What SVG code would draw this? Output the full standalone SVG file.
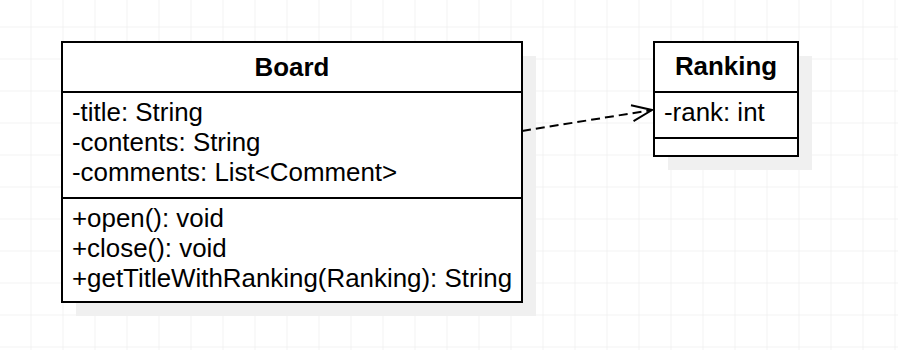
<svg xmlns="http://www.w3.org/2000/svg" width="898" height="350" viewBox="0 0 898 350">
<defs>
<pattern id="grid" x="30.5" y="26.5" width="32" height="32" patternUnits="userSpaceOnUse">
<path d="M0 0H32M0 0V32" fill="none" stroke="#e8e8e8" stroke-width="1"/>
</pattern>
<marker id="open" markerUnits="userSpaceOnUse" markerWidth="30" markerHeight="30" refX="22" refY="10" orient="auto" viewBox="0 0 30 20">
<path d="M2 2 L22 10 L2 18" fill="none" stroke="#000" stroke-width="2"/>
</marker>
</defs>
<style>
.shadow{fill:#f0f0f0;stroke:none}
.box{fill:#fff;stroke:#000;stroke-width:2}
.sep{stroke:#000;stroke-width:2}
.t{font-family:"Liberation Sans",Arial,sans-serif;font-size:25.9px;fill:#000}
.b{font-weight:bold;text-anchor:middle}
.edge{fill:none;stroke:#000;stroke-width:2;stroke-dasharray:9 5}
</style>
<rect width="898" height="350" fill="#fff"/>
<rect width="898" height="350" fill="url(#grid)"/>
<g id="Board">
<rect class="shadow" x="76" y="56" width="460" height="260"/>
<rect class="box" x="62" y="42" width="460" height="260"/>
<line class="sep" x1="62" y1="92" x2="522" y2="92"/>
<line class="sep" x1="62" y1="198" x2="522" y2="198"/>
<text class="t b" x="292" y="76">Board</text>
<text class="t" x="72" y="121">-title: String</text>
<text class="t" x="72" y="151">-contents: String</text>
<text class="t" x="72" y="181">-comments: List&lt;Comment&gt;</text>
<text class="t" x="72" y="227">+open(): void</text>
<text class="t" x="72" y="257">+close(): void</text>
<text class="t" x="72" y="287">+getTitleWithRanking(Ranking): String</text>
</g>
<g id="Ranking">
<rect class="shadow" x="668" y="56" width="144" height="114"/>
<rect class="box" x="654" y="42" width="144" height="114"/>
<line class="sep" x1="654" y1="92" x2="798" y2="92"/>
<line class="sep" x1="654" y1="138" x2="798" y2="138"/>
<text class="t b" x="726" y="75">Ranking</text>
<text class="t" x="664" y="121">-rank: int</text>
</g>
<g id="connectors">
<path class="edge" d="M522 131 L652 110" marker-end="url(#open)"/>
</g>
</svg>
